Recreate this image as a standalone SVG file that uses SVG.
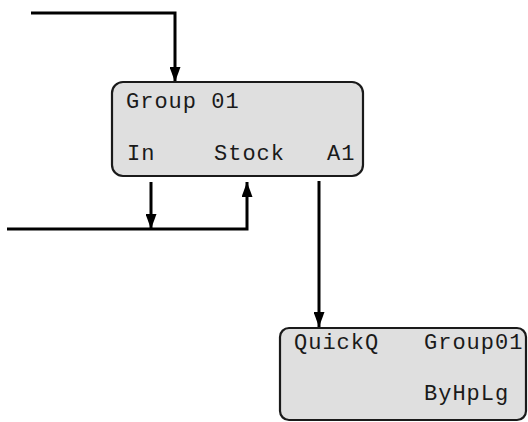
<svg xmlns="http://www.w3.org/2000/svg" width="528" height="422" viewBox="0 0 528 422">
  <defs>
    <marker id="arrow" markerWidth="15" markerHeight="11" refX="15" refY="5.5" orient="auto" markerUnits="userSpaceOnUse" viewBox="0 0 15 11">
      <path d="M0,0 L15,5.5 L0,11 Z" fill="#000"/>
    </marker>
  </defs>
  <style>
    .box { fill: #dfdfdf; stroke: #1a1a1a; stroke-width: 2.2; }
    .lbl { font-family: "Liberation Mono", "Courier New", monospace; font-size: 22px; letter-spacing: 1px; fill: #1a1a1a; }
    .wire { fill: none; stroke: #000; stroke-width: 3; }
  </style>

  <g id="connectors">
    <path class="wire" d="M31,13 H175 V82" marker-end="url(#arrow)"/>
    <path class="wire" d="M7,229 H247 V182" marker-end="url(#arrow)"/>
    <path class="wire" d="M151,182 V229" stroke-width="2.5" marker-end="url(#arrow)"/>
    <path class="wire" d="M319,181 V327" marker-end="url(#arrow)"/>
  </g>

  <g id="group01">
    <rect class="box" x="112" y="82" width="251" height="94" rx="11"/>
    <text class="lbl" x="126" y="108">Group 01</text>
    <text class="lbl" x="127" y="160">In</text>
    <text class="lbl" x="214" y="160">Stock</text>
    <text class="lbl" x="327" y="160">A1</text>
  </g>

  <g id="quickq">
    <rect class="box" x="280" y="328" width="246" height="92" rx="9"/>
    <text class="lbl" x="294" y="349">QuickQ</text>
    <text class="lbl" x="424" y="349">Group01</text>
    <text class="lbl" x="424" y="400">ByHpLg</text>
  </g>
</svg>
